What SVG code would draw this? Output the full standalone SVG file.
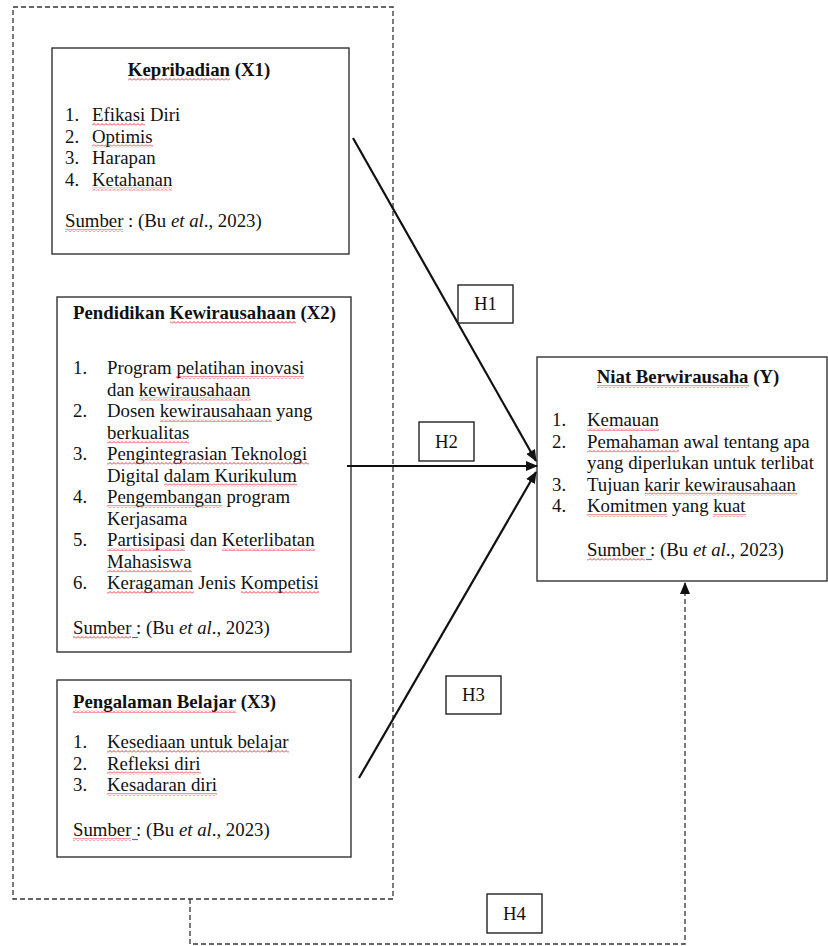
<svg xmlns="http://www.w3.org/2000/svg" width="828" height="946" viewBox="0 0 828 946">
<style>
text{font-family:"Liberation Serif","Times New Roman",serif;font-size:18.8px;fill:#111}
.b{font-weight:bold}
.w{fill:url(#wave)}
.g{fill:none;stroke:#3a6fd8;stroke-width:1.2}
.box{fill:#fff;stroke:#333;stroke-width:1.4}
.hb{fill:#fff;stroke:#222;stroke-width:1.4}
.dash{fill:none;stroke:#333;stroke-width:1.3;stroke-dasharray:5 3}
.arr{fill:none;stroke:#111;stroke-width:2.2}
</style>
<defs>
<pattern id="wave" patternUnits="userSpaceOnUse" width="4" height="3">
<path d="M0,2.5 L2,0.5 L4,2.5" fill="none" stroke="#e0242a" stroke-width="0.9"/>
</pattern>
<marker id="ah" markerUnits="userSpaceOnUse" markerWidth="12" markerHeight="10" refX="11" refY="5" orient="auto">
<path d="M0,0 L12,5 L0,10 z" fill="#111"/>
</marker>
</defs>
<rect id="group-X" class="dash" x="13" y="7" width="380" height="892"/>
<g id="X1">
<rect class="box" x="52" y="48" width="297" height="206"/>
<text class="b" x="199" y="76" text-anchor="middle">Kepribadian (X1)</text>
<text x="65" y="121">1.</text><text x="92" y="121">Efikasi Diri</text>
<text x="65" y="142.5">2.</text><text x="92" y="142.5">Optimis</text>
<text x="65" y="164">3.</text><text x="92" y="164">Harapan</text>
<text x="65" y="185.5">4.</text><text x="92" y="185.5">Ketahanan</text>
<text x="65" y="227">Sumber : (Bu <tspan font-style="italic">et al</tspan>., 2023)</text>
<rect class="w" x="128" y="78" width="102" height="3"/>
<rect class="w" x="92" y="123" width="53" height="3"/>
<rect class="w" x="92" y="144.5" width="61" height="3"/>
<rect class="w" x="92" y="187.5" width="80" height="3"/>
<rect class="w" x="65" y="229" width="58" height="3"/>
</g>
<g id="X2">
<rect class="box" x="57" y="297" width="294" height="355"/>
<text class="b" x="73" y="319">Pendidikan Kewirausahaan (X2)</text>
<text x="73" y="374">1.</text><text x="107" y="374">Program pelatihan inovasi</text>
<text x="107" y="395.5">dan kewirausahaan</text>
<text x="73" y="417">2.</text><text x="107" y="417">Dosen kewirausahaan yang</text>
<text x="107" y="438.5">berkualitas</text>
<text x="73" y="460">3.</text><text x="107" y="460">Pengintegrasian Teknologi</text>
<text x="107" y="481.5">Digital dalam Kurikulum</text>
<text x="73" y="503">4.</text><text x="107" y="503">Pengembangan program</text>
<text x="107" y="524.5">Kerjasama</text>
<text x="73" y="546">5.</text><text x="107" y="546">Partisipasi dan Keterlibatan</text>
<text x="107" y="567.5">Mahasiswa</text>
<text x="73" y="589">6.</text><text x="107" y="589">Keragaman Jenis Kompetisi</text>
<text x="73" y="634">Sumber : (Bu <tspan font-style="italic">et al</tspan>., 2023)</text>
<rect class="w" x="170" y="321" width="126" height="3"/>
<rect class="w" x="176" y="376" width="128" height="3"/>
<rect class="w" x="139" y="397.5" width="112" height="3"/>
<rect class="w" x="160" y="419" width="112" height="3"/>
<rect class="w" x="107" y="440.5" width="82" height="3"/>
<rect class="w" x="107" y="462" width="202" height="3"/>
<rect class="w" x="164" y="483.5" width="133" height="3"/>
<rect class="w" x="107" y="505" width="115" height="3"/>
<rect class="w" x="107" y="548" width="78" height="3"/>
<rect class="w" x="222" y="548" width="93" height="3"/>
<rect class="w" x="107" y="569.5" width="85" height="3"/>
<rect class="w" x="107" y="591" width="87" height="3"/>
<rect class="w" x="241" y="591" width="78" height="3"/>
<rect class="w" x="73" y="636" width="58" height="3"/>
<line class="g" x1="132" y1="637.5" x2="138" y2="637.5"/>
</g>
<g id="X3">
<rect class="box" x="57" y="680" width="294" height="177"/>
<text class="b" x="73" y="708">Pengalaman Belajar (X3)</text>
<text x="73" y="748">1.</text><text x="107" y="748">Kesediaan untuk belajar</text>
<text x="73" y="769.5">2.</text><text x="107" y="769.5">Refleksi diri</text>
<text x="73" y="791">3.</text><text x="107" y="791">Kesadaran diri</text>
<text x="73" y="836">Sumber : (Bu <tspan font-style="italic">et al</tspan>., 2023)</text>
<rect class="w" x="73" y="710" width="163" height="3"/>
<rect class="w" x="107" y="750" width="182" height="3"/>
<rect class="w" x="107" y="771.5" width="94" height="3"/>
<rect class="w" x="107" y="793" width="110" height="3"/>
<rect class="w" x="73" y="838" width="58" height="3"/>
<line class="g" x1="132" y1="839.5" x2="138" y2="839.5"/>
</g>
<g id="Y">
<rect class="box" x="537" y="357" width="290" height="224"/>
<text class="b" x="688" y="383" text-anchor="middle">Niat Berwirausaha (Y)</text>
<text x="552" y="426">1.</text><text x="587" y="426">Kemauan</text>
<text x="552" y="447.5">2.</text><text x="587" y="447.5">Pemahaman awal tentang apa</text>
<text x="587" y="469">yang diperlukan untuk terlibat</text>
<text x="552" y="490.5">3.</text><text x="587" y="490.5">Tujuan karir kewirausahaan</text>
<text x="552" y="512">4.</text><text x="587" y="512">Komitmen yang kuat</text>
<text x="587" y="556">Sumber : (Bu <tspan font-style="italic">et al</tspan>., 2023)</text>
<rect class="w" x="597" y="385" width="152" height="3"/>
<rect class="w" x="587" y="428" width="72" height="3"/>
<rect class="w" x="587" y="449.5" width="92" height="3"/>
<rect class="w" x="645" y="492.5" width="152" height="3"/>
<rect class="w" x="587" y="514" width="80" height="3"/>
<rect class="w" x="713" y="514" width="33" height="3"/>
<rect class="w" x="587" y="558" width="58" height="3"/>
<line class="g" x1="646" y1="559.5" x2="652" y2="559.5"/>
</g>
<g id="connectors">
<line class="arr" x1="353" y1="138" x2="536" y2="461" marker-end="url(#ah)"/>
<line class="arr" x1="347" y1="466" x2="537" y2="466" marker-end="url(#ah)"/>
<line class="arr" x1="359" y1="778" x2="536" y2="472" marker-end="url(#ah)"/>
<polyline class="dash" points="190,899 190,944 685,944 685,583" marker-end="url(#ah)"/>
</g>
<g id="H1"><rect class="hb" x="458" y="285" width="55" height="38"/><text x="485.5" y="310" text-anchor="middle">H1</text></g>
<g id="H2"><rect class="hb" x="419" y="422" width="55" height="39"/><text x="446.5" y="448" text-anchor="middle">H2</text></g>
<g id="H3"><rect class="hb" x="446" y="676" width="55" height="38"/><text x="473.5" y="701" text-anchor="middle">H3</text></g>
<g id="H4"><rect class="hb" x="487" y="894" width="55" height="39"/><text x="514.5" y="920" text-anchor="middle">H4</text></g>
</svg>
